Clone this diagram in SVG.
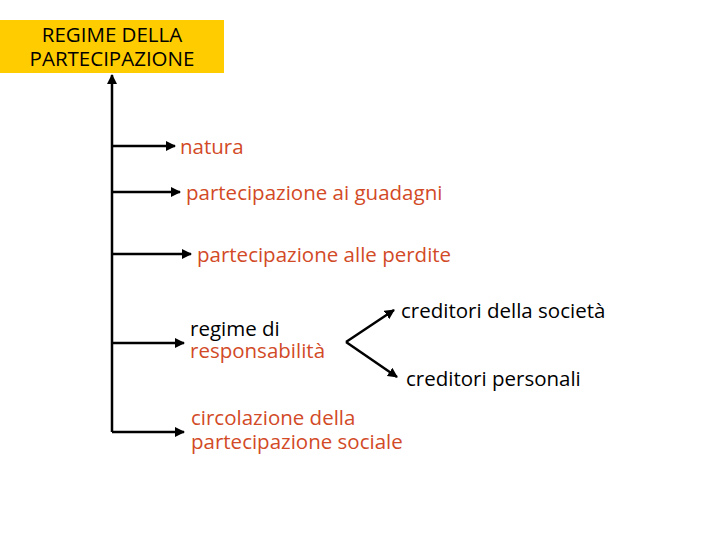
<svg xmlns="http://www.w3.org/2000/svg" width="720" height="540" viewBox="0 0 720 540">
<style>
text{font-family:"Open Sans","Liberation Sans",sans-serif;font-size:20.5px}
.r{fill:#D24A26}.k{fill:#000}
line{stroke:#000;stroke-width:2.5}
</style>
<defs><marker id="a" viewBox="0 0 10 10" refX="9" refY="5" markerWidth="4" markerHeight="4" orient="auto"><path d="M0,0L10,5L0,10z" fill="#000"/></marker></defs>
<g id="n0"><rect x="0" y="20" width="224" height="53" fill="#FFCC00"/>
<text x="112" y="42" text-anchor="middle" class="k" font-size="19.5">REGIME DELLA</text>
<text x="112" y="66" text-anchor="middle" class="k" font-size="19.5">PARTECIPAZIONE</text></g>
<g id="n1"><text x="180" y="154" class="r">natura</text></g>
<g id="n2"><text x="186" y="200" class="r">partecipazione ai guadagni</text></g>
<g id="n3"><text x="197" y="262" class="r">partecipazione alle perdite</text></g>
<g id="n4"><text x="190" y="336" class="k">regime di</text><text x="190" y="358" class="r">responsabilità</text></g>
<g id="n5"><text x="401" y="318" class="k">creditori della società</text></g>
<g id="n6"><text x="406" y="386" class="k">creditori personali</text></g>
<g id="n7"><text x="191" y="425" class="r">circolazione della</text><text x="191" y="449" class="r">partecipazione sociale</text></g>
<g id="connectors">
<line x1="112" y1="432" x2="112" y2="75" marker-end="url(#a)"/>
<line x1="112" y1="146" x2="175" y2="146" marker-end="url(#a)"/>
<line x1="112" y1="192" x2="180" y2="192" marker-end="url(#a)"/>
<line x1="112" y1="254" x2="191" y2="254" marker-end="url(#a)"/>
<line x1="112" y1="343" x2="184" y2="343" marker-end="url(#a)"/>
<line x1="112" y1="432" x2="184" y2="432" marker-end="url(#a)"/>
<line x1="346" y1="342" x2="394" y2="310" marker-end="url(#a)"/>
<line x1="346" y1="342" x2="397" y2="377" marker-end="url(#a)"/>
</g>
</svg>
